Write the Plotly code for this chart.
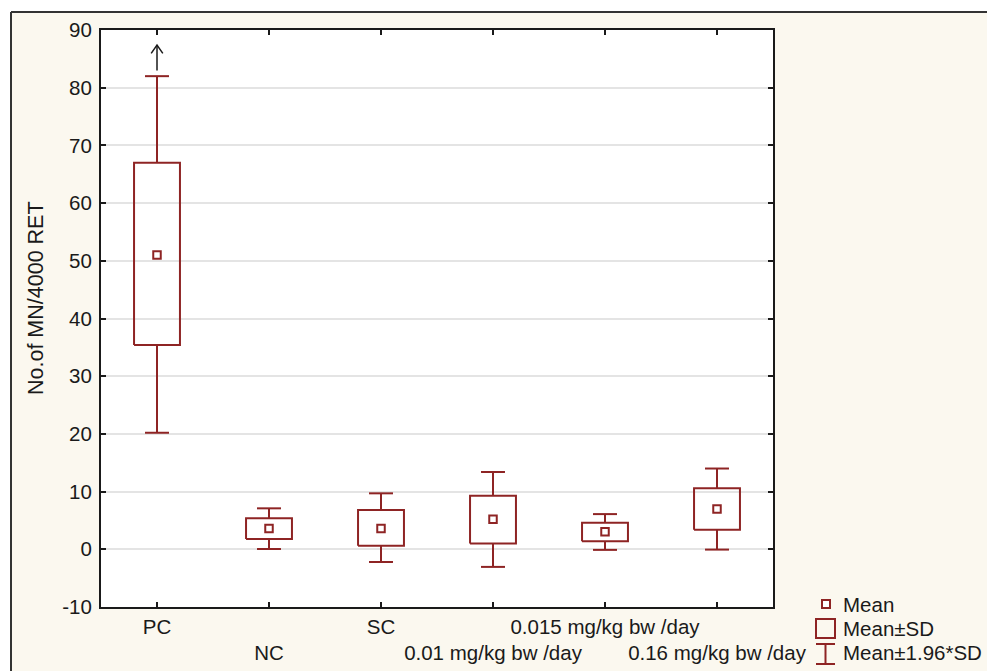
import plotly.graph_objects as go

# ---------------- data ----------------
categories = ["PC", "NC", "SC", "0.01 mg/kg bw /day", "0.015 mg/kg bw /day", "0.16 mg/kg bw /day"]
means = [51.0, 3.6, 3.6, 5.2, 3.05, 7.0]
sd_low = [35.4, 1.8, 0.6, 1.0, 1.4, 3.4]
sd_high = [67.0, 5.4, 6.8, 9.3, 4.6, 10.6]
ci_low = [20.2, 0.05, -2.2, -3.05, -0.1, -0.05]
ci_high = [82.0, 7.1, 9.7, 13.4, 6.1, 14.0]
y_ticks = list(range(-10, 91, 10))
y_ticklabels = [str(v) for v in y_ticks]
legend_labels = ["Mean", "Mean±SD", "Mean±1.96*SD"]
y_title = "No.of MN/4000 RET"

# ---------------- style ----------------
RED = "#8E2424"
INK = "#1A1A1A"
CREAM = "#FBF8EF"
FONT = "Liberation Sans, Arial, sans-serif"
FS = 20.5
BOX_HW = 0.205   # half width of SD box (category units)
CAP_HW = 0.107   # half width of whisker caps

W, H = 987, 671
ML, MR, MT, MB = 101, 214, 30, 64
PW, PH = W - ML - MR, H - MT - MB

def px(x):
    return (x - ML) / PW

def py(y):
    return (H - MB - y) / PH

pos = [i + 0.5 for i in range(len(categories))]

bx, by, wx, wy, cx, cy = [], [], [], [], [], []
for p, m, lo, hi, clo, chi in zip(pos, means, sd_low, sd_high, ci_low, ci_high):
    bx += [p - BOX_HW, p + BOX_HW, p + BOX_HW, p - BOX_HW, p - BOX_HW, None]
    by += [lo, lo, hi, hi, lo, None]
    wx += [p, p, None, p, p, None]
    wy += [hi, chi, None, lo, clo, None]
    cx += [p - CAP_HW, p + CAP_HW, None, p - CAP_HW, p + CAP_HW, None]
    cy += [chi, chi, None, clo, clo, None]

fig = go.Figure()
fig.add_trace(go.Scatter(x=bx, y=by, mode="lines", line=dict(color=RED, width=2),
                         hoverinfo="skip", showlegend=False))
fig.add_trace(go.Scatter(x=wx, y=wy, mode="lines", line=dict(color=RED, width=2),
                         hoverinfo="skip", showlegend=False))
fig.add_trace(go.Scatter(x=cx, y=cy, mode="lines", line=dict(color=RED, width=2),
                         hoverinfo="skip", showlegend=False))
fig.add_trace(go.Scatter(x=pos, y=means, mode="markers",
                         marker=dict(symbol="square", size=7.5, color="white",
                                     line=dict(color=RED, width=2)),
                         showlegend=False))

# arrow above PC (off-scale indicator)
ap = pos[0]
a0 = ci_high[0] + 1.0
a1 = ci_high[0] + 5.4
fig.add_trace(go.Scatter(
    x=[ap, ap, None, ap - 0.052, ap, ap + 0.052],
    y=[a0, a1, None, a1 - 1.45, a1, a1 - 1.45],
    mode="lines", line=dict(color=INK, width=1.5), hoverinfo="skip", showlegend=False))

ticktext = [c if i % 2 == 0 else "<br>" + c for i, c in enumerate(categories)]

fig.update_xaxes(range=[0, len(categories)], tickvals=pos, ticktext=ticktext, tickangle=0,
                 automargin=False,
                 showgrid=False, zeroline=False, showline=True, linewidth=2, linecolor=INK,
                 mirror="allticks", ticks="inside", ticklen=5, tickwidth=2, tickcolor=INK,
                 tickfont=dict(family=FONT, size=FS, color=INK), ticklabelstandoff=0)
fig.update_yaxes(range=[-10, 90], tickvals=y_ticks, ticktext=y_ticklabels, automargin=False,
                 showgrid=True, gridcolor="#E4E4E4",
                 gridwidth=1.5, zeroline=False, showline=True, linewidth=2, linecolor=INK,
                 mirror="allticks", ticks="inside", ticklen=5, tickwidth=2, tickcolor=INK,
                 tickfont=dict(family=FONT, size=FS, color=INK), ticklabelstandoff=3)

shapes = [
    # white strips outside the cream frame
    dict(type="rect", xref="paper", yref="paper", x0=px(-5), x1=px(W + 5), y0=py(12), y1=py(-5),
         fillcolor="white", line=dict(width=0), layer="below"),
    dict(type="rect", xref="paper", yref="paper", x0=px(-5), x1=px(11), y0=py(H + 5), y1=py(-5),
         fillcolor="white", line=dict(width=0), layer="below"),
    dict(type="line", xref="paper", yref="paper", x0=px(11), x1=px(W + 5), y0=py(12), y1=py(12),
         line=dict(color="#333333", width=2)),
    dict(type="line", xref="paper", yref="paper", x0=px(11), x1=px(11), y0=py(12), y1=py(H + 5),
         line=dict(color="#333333", width=2)),
    # legend symbols
    dict(type="rect", xref="paper", yref="paper", x0=px(822), x1=px(830), y0=py(608), y1=py(600),
         fillcolor="white", line=dict(color=RED, width=2)),
    dict(type="rect", xref="paper", yref="paper", x0=px(816), x1=px(835), y0=py(638), y1=py(619),
         fillcolor="rgba(0,0,0,0)", line=dict(color=RED, width=2)),
    dict(type="line", xref="paper", yref="paper", x0=px(825.5), x1=px(825.5), y0=py(644), y1=py(664),
         line=dict(color=RED, width=2)),
    dict(type="line", xref="paper", yref="paper", x0=px(816), x1=px(835), y0=py(644), y1=py(644),
         line=dict(color=RED, width=2)),
    dict(type="line", xref="paper", yref="paper", x0=px(816), x1=px(835), y0=py(664), y1=py(664),
         line=dict(color=RED, width=2)),
]

annotations = [
    dict(text=y_title, xref="paper", yref="paper", x=px(36), y=py(298), textangle=-90,
         showarrow=False, xanchor="center", yanchor="middle",
         font=dict(family=FONT, size=21.5, color=INK)),
]
for lbl, yy in zip(legend_labels, [604, 628, 652]):
    annotations.append(dict(text=lbl, xref="paper", yref="paper", x=px(841), y=py(yy),
                            showarrow=False, xanchor="left", yanchor="middle",
                            font=dict(family=FONT, size=FS, color=INK)))

fig.update_layout(
    width=W, height=H, margin=dict(l=ML, r=MR, t=MT, b=MB, pad=0, autoexpand=False),
    paper_bgcolor=CREAM, plot_bgcolor="white",
    shapes=shapes, annotations=annotations, showlegend=False,
    font=dict(family=FONT, size=FS, color=INK),
)

fig.write_html("out.html")
